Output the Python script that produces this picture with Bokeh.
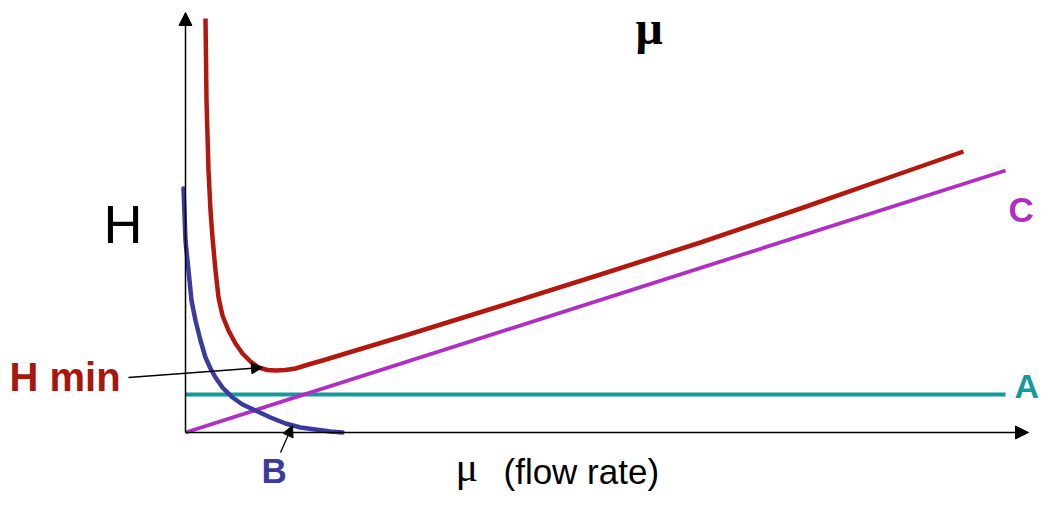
from bokeh.plotting import figure
from bokeh.models import Range1d, Arrow, NormalHead
from bokeh.core.properties import value
from bokeh.embed import file_html
from bokeh.resources import INLINE

# ---- data (flow rate u, plate height H) ----
# B term (longitudinal diffusion, B/u)
b_u = [-0.02, 0.0, 0.03, 0.06, 0.10, 0.15, 0.20, 0.25, 0.30, 0.37, 0.47, 0.57,
       0.70, 0.85, 1.00, 1.15, 1.30, 1.45, 1.57]
b_h = [2.44, 1.92, 1.62, 1.32, 1.12, 0.92, 0.75, 0.64, 0.55, 0.45, 0.35, 0.28,
       0.22, 0.15, 0.09, 0.05, 0.03, 0.01, 0.00]
# total H = A + B/u + C u
h_u = [0.20, 0.21, 0.23, 0.25, 0.27, 0.30, 0.33, 0.37, 0.43, 0.50, 0.57, 0.65,
       0.73, 0.82, 0.90, 1.00, 1.10, 1.23, 1.37, 1.70, 2.15, 3.15, 4.15, 5.15,
       6.15, 7.15, 7.78]
h_h = [4.14, 3.32, 2.62, 2.22, 1.95, 1.62, 1.35, 1.17, 1.02, 0.89, 0.79, 0.71,
       0.65, 0.625, 0.62, 0.625, 0.64, 0.68, 0.72, 0.82, 0.955, 1.265, 1.58, 1.90,
       2.24, 2.59, 2.81]
# A term (constant) and C term (linear)
a_u = [0.0, 8.2]
a_h = [0.38, 0.38]
c_u = [0.0, 8.2]
c_h = [0.0, 2.62]

RED = "#b3180f"
BLUE = "#3b3b9f"
MAG = "#b02fc2"
TEAL = "#179a9c"

p = figure(width=1040, height=494, output_backend="svg", toolbar_location=None,
           x_range=Range1d(-1.85, 8.55), y_range=Range1d(-0.62, 4.32),
           min_border=0, min_border_left=0, min_border_right=0,
           min_border_top=0, min_border_bottom=0)
p.xaxis.visible = False
p.yaxis.visible = False
p.grid.visible = False
p.outline_line_color = None
p.background_fill_color = "white"
p.border_fill_color = "white"

# axes drawn as arrows
head = dict(size=13, fill_color="black", line_color="black", line_width=1)
p.add_layout(Arrow(end=NormalHead(**head), x_start=0, y_start=0, x_end=0, y_end=4.20,
                   line_color="black", line_width=1.5))
p.add_layout(Arrow(end=NormalHead(**head), x_start=0, y_start=0, x_end=8.43, y_end=0,
                   line_color="black", line_width=1.5))

p.line(a_u, a_h, line_color=TEAL, line_width=4)
p.line(c_u, c_h, line_color=MAG, line_width=3.8)
p.line(b_u, b_h, line_color=BLUE, line_width=4.5, line_cap="round")
p.line(h_u, h_h, line_color=RED, line_width=4.5, line_join="round")

# pointer arrows
small = dict(size=11, fill_color="black", line_color="black", line_width=1)
p.add_layout(Arrow(end=NormalHead(**small), x_start=-0.57, y_start=0.55, x_end=0.77, y_end=0.65,
                   line_color="black", line_width=1.3))
p.add_layout(Arrow(end=NormalHead(**small), x_start=0.95, y_start=-0.20, x_end=1.07, y_end=0.07,
                   line_color="black", line_width=1.3))

SANS = value("Liberation Sans")
SERIF = value("Liberation Serif")

def label(x, y, t, color, size, font=SANS, style="normal"):
    p.text(x=[x], y=[y], text=[t], text_color=color, text_font=font,
           text_font_size=value(f"{size}px"), text_font_style=style,
           text_align="left", text_baseline="middle")

label(-0.82, 2.09, "H", "black", 54)
label(-1.76, 0.56, "H min", "#a5170f", 40, style="bold")
label(0.76, -0.38, "B", BLUE, 35, style="bold")
label(8.23, 2.23, "C", MAG, 35, style="bold")
label(8.29, 0.47, "A", TEAL, 34, style="bold")
label(2.70, -0.34, "\u03bc", "black", 42, font=SERIF)
label(3.18, -0.39, "(flow rate)", "black", 35)
label(4.50, 4.05, "\u03bc", "black", 48, font=SERIF, style="bold")

open("out.html", "w").write(file_html(p, INLINE))
